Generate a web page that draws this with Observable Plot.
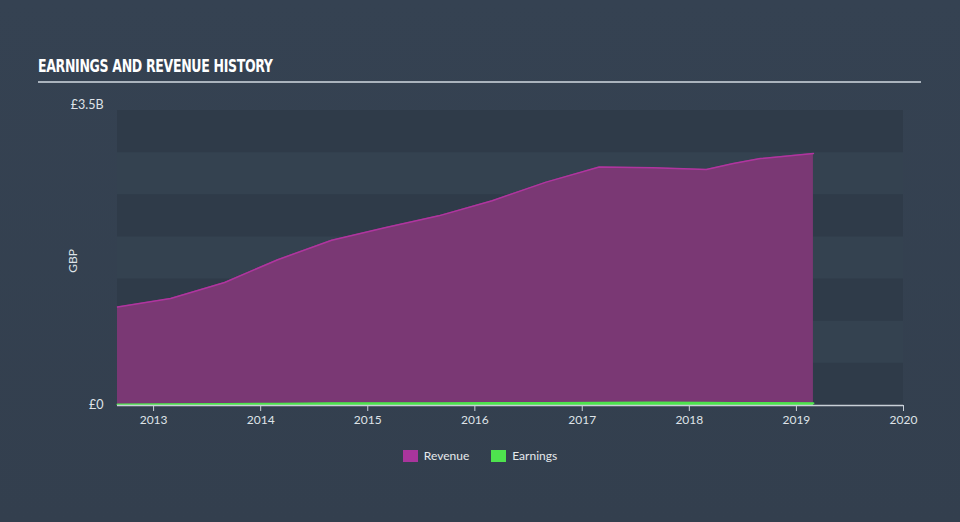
<!DOCTYPE html>
<html>
<head>
<meta charset="utf-8">
<script src="https://cdn.jsdelivr.net/npm/d3@7"></script>
<script src="https://cdn.jsdelivr.net/npm/@observablehq/plot@0.6"></script>
<style>
  html, body { margin: 0; padding: 0; background: #333f4e; }
  #wrap { position: relative; width: 960px; height: 522px; overflow: hidden;
          background: linear-gradient(180deg, #354252 0%, #333f4e 100%); font-family: Lato, "Open Sans", sans-serif; }
  #title { position: absolute; left: 38px; top: 56px; color: #ffffff; font-family: "DejaVu Sans Condensed", "DejaVu Sans", sans-serif;
           font-stretch: condensed; font-weight: bold; font-size: 17px; letter-spacing: -0.4px; transform: scaleX(0.82); transform-origin: left; }
  #rule { position: absolute; left: 38px; top: 81px; width: 883px; height: 2px; background: #aab3bd; }
  #legend { position: absolute; top: 448px; left: 0; width: 960px; display: flex; justify-content: center; gap: 22px;
            color: #e6e9ec; font-size: 12px; }
  .item { display: flex; align-items: center; gap: 6px; }
  .sw { width: 15px; height: 12px; display: inline-block; }
  #plot { position: absolute; left: 0; top: 0; }
</style>
</head>
<body>
<div id="wrap">
  <div id="plot"></div>
  <div id="title">EARNINGS AND REVENUE HISTORY</div>
  <div id="rule"></div>
  <div id="legend">
    <div class="item"><span class="sw" style="background:#a9359c"></span>Revenue</div>
    <div class="item"><span class="sw" style="background:#4ee34e"></span>Earnings</div>
  </div>
</div>
<script>
const dates = ["2012-08-31","2013-02-28","2013-08-31","2014-02-28","2014-08-31","2015-02-28","2015-08-31",
               "2016-02-29","2016-08-31","2017-02-28","2017-08-31","2018-02-28","2018-05-31","2018-08-31","2019-02-28"];
const revenue = [1.17, 1.27, 1.46, 1.73, 1.96, 2.11, 2.25, 2.43, 2.65, 2.83, 2.82, 2.80, 2.87, 2.93, 2.99];
const earnings = [0.012, 0.014, 0.018, 0.022, 0.026, 0.027, 0.028, 0.029, 0.031, 0.033, 0.037, 0.033, 0.031, 0.029, 0.028];
const bandStarts = [0, 1, 2, 3];
const yTicks = [0, 3.5];
const yTickLabels = ["£0", "£3.5B"];
const xTickYears = [2013, 2014, 2015, 2016, 2017, 2018, 2019, 2020];

const B = 1e9;
const data = dates.map((d, i) => ({date: new Date(d), revenue: revenue[i] * B, earnings: earnings[i] * B}));
const bands = bandStarts.map(s => ({y1: s * B, y2: (s + 0.5) * B}));
const xTicks = xTickYears.map(y => new Date(`${y}-01-01`));
const yFmt = v => yTickLabels[yTicks.indexOf(v / B)];

const chart = Plot.plot({
  width: 960,
  height: 522,
  marginLeft: 117,
  marginRight: 57,
  marginTop: 110,
  marginBottom: 117,
  style: {background: "transparent", color: "#dfe3e8", fontFamily: "Lato, 'Open Sans', sans-serif", fontSize: "12px"},
  x: {type: "utc", domain: [new Date("2012-08-31"), new Date("2020-01-01")], label: null},
  y: {domain: [0, 3.5 * B], label: null},
  marks: [
    Plot.rect([{y1: 0, y2: 3.5 * B}], {y1: "y1", y2: "y2", fill: "#344250"}),
    Plot.rect(bands, {y1: "y1", y2: "y2", fill: "#2f3b49"}),
    Plot.areaY(data, {x: "date", y: "revenue", fill: "#7a3874", fillOpacity: 1}),
    Plot.lineY(data, {x: "date", y: "revenue", stroke: "#b0359f", strokeWidth: 1.5}),
    Plot.areaY(data, {x: "date", y: "earnings", fill: "#4ee34e"}),
    Plot.lineY(data, {x: "date", y: "earnings", stroke: "#4ee34e", strokeWidth: 2}),
    Plot.ruleY([0], {stroke: "#c9d0d8", strokeWidth: 1.5}),
    Plot.axisX({ticks: xTicks, tickFormat: d3.utcFormat("%Y"), tickSize: 6, tickPadding: 4, stroke: "#c9d0d8", fill: "#dfe3e8", fontSize: 12, label: null}),
    Plot.axisY({ticks: [0], tickFormat: yFmt, tickSize: 0, tickPadding: 14, fill: "#dfe3e8", fontSize: 12.5, label: null, dy: -1}),
    Plot.axisY({ticks: [3.5 * B], tickFormat: yFmt, tickSize: 0, tickPadding: 14, fill: "#dfe3e8", fontSize: 12.5, label: null, dy: -6}),
    Plot.text(["GBP"], {frameAnchor: "left", textAnchor: "middle", dx: -44, dy: 3, rotate: -90, fill: "#dfe3e8", fontSize: 12})
  ]
});
document.getElementById("plot").appendChild(chart);
</script>
</body>
</html>
